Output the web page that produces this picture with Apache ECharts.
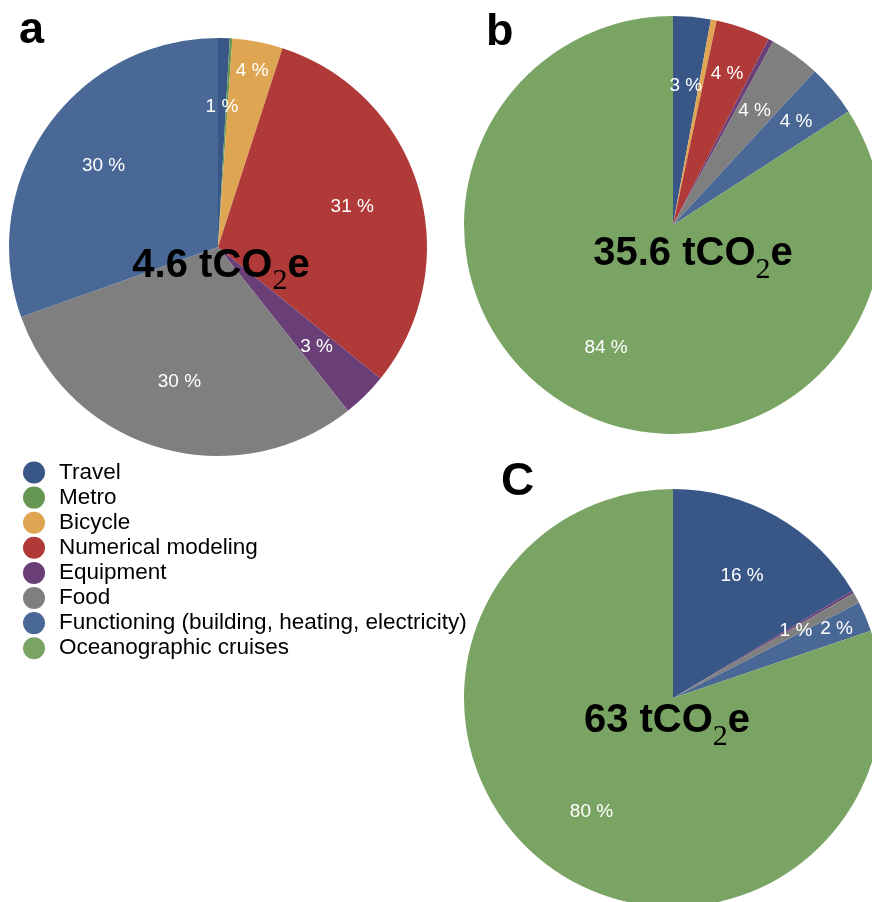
<!DOCTYPE html>
<html>
<head>
<meta charset="utf-8">
<script src="https://cdn.jsdelivr.net/npm/echarts@6/dist/echarts.min.js"></script>
<style>
html, body { margin: 0; padding: 0; background: #ffffff; }
#chart { width: 872px; height: 902px; }
</style>
</head>
<body>
<div id="chart"></div>
<script>
// ---- data ----
const categories = [
  'Travel',
  'Metro',
  'Bicycle',
  'Numerical modeling',
  'Equipment',
  'Food',
  'Functioning (building, heating, electricity)',
  'Oceanographic cruises'
];
const colors = ['#385787', '#659753', '#dea652', '#b03a38', '#6a3f78', '#7f7f7f', '#4a6896', '#7aa463'];
// shares (%)
const shareA = [0.9, 0.2, 3.9, 30.9, 3.5, 30.3, 30.5, 0];
const shareB = [2.9, 0, 0.45, 4.2, 0.4, 3.9, 4.0, 84.1];
const shareC = [16.4, 0, 0, 0, 0.2, 0.85, 2.3, 80.1];
const totals = ['4.6', '35.6', '63'];
const panelLetters = ['a', 'b', 'C'];

// ---- layout ----
const R = 209;
const FONT = '"Liberation Sans", Arial, Helvetica, sans-serif';
const panels = [
  { values: shareA, center: [218, 247], push: { 2: 0.86 }, letterPos: [19, 31], textPos: [221, 245.6] },
  { values: shareB, center: [673, 225], push: { 3: 0.77, 6: 0.77 }, letterPos: [486, 32.4], textPos: [693, 234.1] },
  { values: shareC, center: [673, 698], push: { 6: 0.85 }, letterPos: [501, 482.4], textPos: [667, 701.1] }
];

const series = panels.map((p) => ({
  type: 'pie',
  radius: R,
  center: p.center,
  startAngle: 90,
  clockwise: true,
  avoidLabelOverlap: false,
  animation: false,
  silent: true,
  emphasis: { disabled: true },
  itemStyle: { borderWidth: 0 },
  label: {
    show: true,
    position: 'inside',
    color: '#ffffff',
    fontSize: 19,
    fontFamily: FONT,
    fontWeight: 'normal',
    formatter: (prm) => {
      const v = Math.round(prm.percent);
      return v > 0 ? v + ' %' : '';
    }
  },
  labelLine: { show: false },
  labelLayout: (prm) => {
    const rect = prm.labelRect;
    if (!rect || !rect.width) return {};
    const cx = p.center[0], cy = p.center[1];
    const lx = rect.x + rect.width / 2;
    const ly = rect.y + rect.height / 2;
    const dx = lx - cx, dy = ly - cy;
    const d = Math.sqrt(dx * dx + dy * dy);
    if (!d) return {};
    const target = (p.push[prm.dataIndex] || 0.67) * R;
    return { x: cx + dx / d * target, y: cy + dy / d * target, align: 'center', verticalAlign: 'middle' };
  },
  data: categories.map((name, i) => ({
    name: name,
    value: p.values[i],
    itemStyle: { color: colors[i] }
  }))
}));

const graphics = [];
panels.forEach((p, i) => {
  graphics.push({
    type: 'text',
    x: p.letterPos[0],
    y: p.letterPos[1],
    z: 100,
    silent: true,
    style: {
      text: panelLetters[i],
      fontSize: i === 2 ? 46 : 45,
      fontWeight: 'bold',
      fontFamily: FONT,
      fill: '#000000',
      align: 'left',
      verticalAlign: 'middle'
    }
  });
  graphics.push({
    type: 'text',
    x: p.textPos[0],
    y: p.textPos[1],
    z: 100,
    silent: true,
    style: {
      text: '{m|' + totals[i] + ' tCO}{s|2}{m|e}',
      align: 'center',
      verticalAlign: 'top',
      fill: '#000000',
      rich: {
        m: { fontSize: 40, fontWeight: 'bold', fontFamily: FONT, verticalAlign: 'top', fill: '#000000' },
        s: { fontSize: 30, fontWeight: 'normal', fontFamily: '"Liberation Serif", "Times New Roman", serif', height: 72, verticalAlign: 'top', fill: '#000000' }
      }
    }
  });
});

const option = {
  backgroundColor: '#ffffff',
  animation: false,
  legend: {
    data: categories,
    orient: 'vertical',
    left: 18,
    top: 456,
    icon: 'circle',
    itemWidth: 40,
    itemHeight: 22,
    itemGap: 2.1,
    selectedMode: false,
    textStyle: { fontSize: 22.5, fontFamily: FONT, color: '#000000', lineHeight: 22 }
  },
  series: series,
  graphic: { elements: graphics }
};

const chart = echarts.init(document.getElementById('chart'), null, { renderer: 'canvas' });
chart.setOption(option);
</script>
</body>
</html>
